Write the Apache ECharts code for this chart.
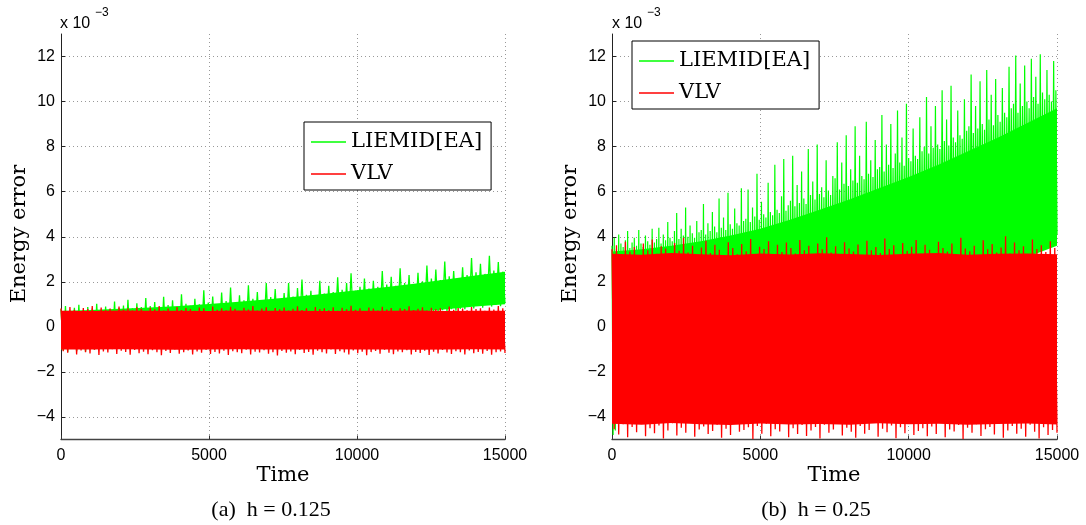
<!DOCTYPE html>
<html>
<head>
<meta charset="utf-8">
<script src="https://cdn.jsdelivr.net/npm/echarts@6/dist/echarts.min.js"></script>
<style>html,body{margin:0;padding:0;background:#fff}#c{width:1086px;height:525px}</style>
</head>
<body>
<div id="c"></div>
<script>
// ---------- data (energy error, units of 1e-3) ----------
const seriesNames = ['LIEMID[EA]', 'VLV'];
const captions = ['(a)  h = 0.125', '(b)  h = 0.25'];
const xTickValues = [0, 5000, 10000, 15000];
const timeMax = 15000;
const yMin = -5, yMax = 13;
const bandTimes = [0,1000,2000,3000,4000,5000,6000,7000,8000,9000,10000,11000,12000,13000,14000,15000];

// (a) h = 0.125 -- VLV
const redA_peaks = [0.82,0.71,0.88,0.76,0.65,0.84,0.79,0.92,0.70,0.86,
0.74,0.81,0.68,0.90,0.77,0.83,0.72,0.87,0.80,0.66,
0.85,0.78,0.93,0.73,0.81,0.69,0.88,0.75,0.84,0.79,
0.71,0.86,0.82,0.67,0.90,0.76,0.83,0.74,0.89,0.80,
0.70,0.85,0.77,0.92,0.72,0.81,0.87,0.68,0.84,0.78,
0.86,0.73,0.80,0.91,0.75,0.83,0.69,0.88,0.79,0.82,
0.74,0.87,0.71,0.85,0.78,0.94,0.76,0.82,0.70,0.86,
0.81,0.73,0.89,0.77,0.84,0.68,0.83,0.79,0.91,0.75,
0.80,0.87,0.72,0.85,0.78,0.82,0.69,0.90,0.76,0.84,
0.81,0.74,0.88,0.79,0.83,0.71,0.86,0.77,0.92,0.82];
const redA_troughs = [-1.08,-1.15,-0.98,-1.22,-1.05,-1.12,-1.18,-1.01,-1.25,-1.09,
-1.14,-0.99,-1.20,-1.06,-1.11,-1.24,-1.03,-1.17,-1.10,-1.21,
-1.04,-1.13,-1.26,-1.07,-1.16,-1.00,-1.19,-1.12,-1.05,-1.23,
-1.09,-1.15,-1.02,-1.20,-1.11,-1.18,-1.06,-1.25,-1.08,-1.13,
-1.17,-1.01,-1.22,-1.10,-1.14,-1.04,-1.19,-1.12,-1.27,-1.07,
-1.15,-1.09,-1.21,-1.03,-1.16,-1.11,-1.24,-1.06,-1.13,-1.18,
-1.00,-1.20,-1.08,-1.14,-1.23,-1.05,-1.17,-1.10,-1.26,-1.12,
-1.07,-1.19,-1.02,-1.15,-1.21,-1.09,-1.13,-1.04,-1.22,-1.11,
-1.16,-1.06,-1.25,-1.10,-1.18,-1.03,-1.14,-1.20,-1.08,-1.12,
-1.23,-1.05,-1.17,-1.11,-1.19,-1.07,-1.24,-1.13,-1.09,-1.16];
const redA_bandTop = [0.72,0.70,0.73,0.71,0.72,0.70,0.73,0.71,0.72,0.70,0.72,0.71,0.73,0.70,0.72,0.71];
const redA_bandBottom = [-1.00,-1.01,-0.99,-1.00,-1.02,-1.00,-0.99,-1.01,-1.00,-0.99,-1.01,-1.00,-1.02,-1.00,-0.99,-1.01];

// (a) h = 0.125 -- LIEMID[EA]
const greenA_peaks = [0.78,0.92,0.70,0.85,0.98,0.74,0.88,0.81,1.02,0.76,
0.90,0.79,1.12,0.84,0.95,1.20,0.82,1.05,0.88,1.28,
0.92,1.10,0.86,1.33,0.97,1.18,0.90,1.45,1.02,0.94,
1.25,1.00,1.62,1.08,1.35,0.98,1.52,1.15,1.75,1.05,
1.40,1.18,1.85,1.25,1.55,1.15,1.95,1.32,1.68,1.22,
1.50,1.95,1.35,1.72,2.10,1.42,1.60,1.38,2.05,1.48,
1.82,1.55,2.20,1.65,1.95,2.38,1.60,1.78,2.15,1.70,
2.05,1.78,2.48,1.88,2.22,1.82,2.60,1.95,2.30,1.85,
2.40,2.02,2.72,2.15,2.55,2.08,2.90,2.25,2.48,2.12,
2.65,2.30,3.05,2.42,2.80,2.35,3.15,2.50,2.88,2.45];
const greenA_troughs = [-1.05,-1.12,-0.98,-1.08,-0.95,-1.10,-0.97,-1.02,-0.90,-1.00,
-0.92,-0.83,-0.95,-0.78,-0.88,-0.72,-0.85,-0.80,-0.70,-0.76,
-0.70,-0.62,-0.74,-0.58,-0.66,-0.55,-0.63,-0.50,-0.60,-0.52,
-0.50,-0.42,-0.55,-0.38,-0.45,-0.33,-0.40,-0.30,-0.37,-0.28,
-0.30,-0.20,-0.28,-0.15,-0.24,-0.12,-0.18,-0.08,-0.14,-0.05,
-0.08,0.02,-0.04,0.06,-0.01,0.10,0.03,0.12,0.05,0.15,
0.12,0.22,0.15,0.26,0.19,0.30,0.24,0.33,0.27,0.36,
0.34,0.42,0.38,0.48,0.40,0.52,0.45,0.55,0.50,0.58,
0.56,0.64,0.60,0.70,0.62,0.74,0.68,0.78,0.72,0.80,
0.78,0.88,0.82,0.94,0.85,1.02,0.90,0.98,0.92,1.05];
const greenA_bandTop = [0.70,0.75,0.80,0.86,0.93,1.02,1.12,1.23,1.35,1.48,1.62,1.77,1.93,2.10,2.28,2.45];
const greenA_bandBottom = [-1.00,-0.86,-0.72,-0.58,-0.44,-0.30,-0.16,-0.02,0.12,0.26,0.40,0.54,0.66,0.78,0.90,1.00];

// (b) h = 0.25 -- VLV
const redB_peaks = [3.45,3.62,3.20,3.78,3.35,3.55,3.05,3.70,3.40,3.88,
3.25,3.58,3.48,3.15,3.72,3.38,3.95,3.30,3.60,3.10,
3.52,3.82,3.28,3.65,3.42,3.00,3.75,3.50,3.22,3.68,
3.36,3.90,3.18,3.56,3.46,3.80,3.08,3.64,3.32,3.74,
3.50,3.26,3.85,3.40,3.60,3.12,3.70,3.44,3.98,3.30,
3.58,3.20,3.76,3.48,3.35,3.66,3.02,3.82,3.40,3.54,
3.28,3.92,3.46,3.62,3.16,3.72,3.38,3.56,3.86,3.24,
3.64,3.42,3.06,3.78,3.50,3.34,3.70,3.22,3.96,3.48,
3.36,3.60,3.14,3.84,3.44,3.68,3.30,3.52,4.02,3.26,
3.74,3.40,3.58,3.18,3.88,3.46,3.62,3.32,3.80,3.50];
const redB_troughs = [-4.55,-4.78,-4.32,-4.90,-4.45,-4.68,-4.20,-4.85,-4.50,-4.72,
-4.38,-4.95,-4.60,-4.28,-4.82,-4.48,-4.70,-4.15,-4.88,-4.56,
-4.42,-4.75,-4.62,-4.35,-4.92,-4.52,-4.80,-4.25,-4.66,-4.58,
-4.46,-4.98,-4.40,-4.74,-4.30,-4.86,-4.54,-4.64,-4.22,-4.90,
-4.50,-4.76,-4.36,-4.84,-4.60,-4.44,-4.96,-4.34,-4.70,-4.56,
-4.26,-4.82,-4.48,-4.66,-4.92,-4.40,-4.74,-4.58,-4.18,-4.88,
-4.52,-4.68,-4.38,-4.94,-4.46,-4.72,-4.30,-4.80,-4.62,-4.50,
-4.86,-4.42,-4.76,-4.24,-4.90,-4.56,-4.64,-4.36,-4.98,-4.48,
-4.70,-4.32,-4.84,-4.54,-4.44,-4.78,-4.28,-4.92,-4.60,-4.40,
-4.74,-4.52,-4.88,-4.34,-4.66,-4.96,-4.46,-4.80,-4.58,-4.70];
const redB_bandTop = [3.25,3.20,3.28,3.22,3.18,3.26,3.21,3.27,3.23,3.19,3.25,3.28,3.20,3.24,3.26,3.22];
const redB_bandBottom = [-4.30,-4.34,-4.27,-4.32,-4.36,-4.29,-4.33,-4.31,-4.35,-4.28,-4.32,-4.30,-4.34,-4.31,-4.29,-4.33];

// (b) h = 0.25 -- LIEMID[EA]  (denser sampling: 200 peaks / 200 troughs)
const greenB_peaks = [3.60,3.95,3.45,4.10,3.70,3.55,3.85,4.25,3.50,3.75,3.95,3.60,4.30,3.70,3.55,4.05,3.80,3.65,4.35,3.75,
3.90,4.40,3.70,4.10,3.85,4.65,3.95,3.80,4.25,5.05,3.90,4.35,4.05,5.30,4.00,4.50,4.15,3.95,4.70,4.20,
4.30,5.45,4.10,4.60,4.25,5.10,4.45,4.20,5.70,4.40,4.85,4.30,5.95,4.55,4.35,5.25,4.60,4.50,6.15,4.70,
4.80,6.10,4.65,5.30,4.90,6.80,4.75,5.55,5.00,4.85,6.40,5.10,4.95,7.20,5.20,5.05,5.80,7.45,5.15,5.40,
5.60,7.60,5.35,6.30,5.50,6.90,5.70,5.45,7.90,5.85,6.45,5.65,8.10,5.90,6.20,5.75,7.40,6.05,5.85,6.70,
6.60,8.20,6.10,7.30,6.35,8.50,6.25,7.00,6.50,8.90,6.40,7.60,6.70,6.55,9.10,6.80,7.40,6.65,8.30,7.00,
7.10,9.40,6.90,8.10,7.20,9.00,7.05,7.70,9.60,7.30,8.40,7.15,9.90,7.50,7.35,8.80,7.60,7.45,9.30,7.80,
8.00,10.20,7.70,8.90,7.95,9.80,8.10,7.90,10.50,8.25,9.20,8.05,10.70,8.40,8.20,9.60,8.50,8.35,10.10,8.70,
8.90,11.20,8.60,9.80,8.80,10.90,9.00,8.75,11.40,9.20,10.30,8.95,11.00,9.40,9.10,10.60,9.50,9.30,11.55,9.70,
9.90,12.05,9.50,10.80,9.80,11.60,10.00,9.70,11.90,10.20,11.10,9.90,12.10,10.40,10.10,11.40,10.30,10.00,11.80,10.50];
const greenB_troughs = [-4.80,-4.60,-4.25,-4.10,-4.20,-4.05,-4.15,-4.00,-4.10,-3.95,-4.05,-3.90,-4.00,-3.85,-3.95,-3.80,-3.90,-3.75,-3.85,-3.70,
-4.10,-3.85,-4.20,-3.75,-3.95,-3.65,-4.05,-3.80,-3.60,-3.90,-3.70,-3.50,-3.85,-3.55,-3.75,-3.45,-3.65,-3.40,-3.60,-3.35,
-3.50,-3.20,-3.60,-3.10,-3.35,-3.00,-3.25,-3.05,-3.40,-2.90,-3.15,-2.85,-3.00,-2.75,-2.95,-2.65,-2.85,-2.60,-2.75,-2.50,
-2.65,-2.40,-2.55,-2.30,-2.45,-2.15,-2.35,-2.05,-2.20,-1.95,-2.10,-1.85,-1.95,-1.70,-1.85,-1.60,-1.70,-1.45,-1.60,-1.35,
-1.45,-1.20,-1.35,-1.05,-1.20,-0.95,-1.05,-0.80,-0.95,-0.65,-0.80,-0.55,-0.65,-0.40,-0.50,-0.30,-0.40,-0.15,-0.25,-0.05,
-0.20,0.05,-0.05,0.20,0.10,0.30,0.15,0.40,0.25,0.50,0.35,0.60,0.45,0.70,0.55,0.80,0.65,0.90,0.75,1.00,
0.85,1.10,0.95,1.20,1.05,1.30,1.15,1.40,1.25,1.50,1.35,1.60,1.45,1.70,1.55,1.80,1.65,1.90,1.75,2.00,
1.85,2.10,1.95,2.20,2.05,2.30,2.15,2.40,2.25,2.50,2.35,2.60,2.45,2.70,2.55,2.80,2.65,2.90,2.75,3.00,
2.85,3.10,2.95,3.20,3.05,3.30,3.10,3.40,3.20,3.45,3.25,3.55,3.35,3.60,3.40,3.70,3.45,3.75,3.55,3.80,
3.60,3.90,3.65,3.95,3.70,4.00,3.75,4.05,3.80,3.60,4.10,3.85,3.70,4.05,3.90,3.75,4.15,3.95,3.80,4.10];
const greenB_bandTop = [3.35,3.45,3.60,3.80,4.05,4.35,4.75,5.20,5.65,6.15,6.65,7.20,7.80,8.40,9.05,9.70];
const greenB_bandBottom = [-4.20,-3.90,-3.50,-3.10,-2.60,-2.10,-1.50,-0.90,-0.30,0.30,0.90,1.45,2.00,2.60,3.10,3.60];

// ---------- build ----------
const GREEN = '#00ff00', RED = '#ff0000';
function zig(peaks, troughs) {
  const n = peaks.length, step = timeMax / (2 * n - 1), out = [];
  for (let i = 0; i < n; i++) {
    out.push([2 * i * step, peaks[i]]);
    out.push([(2 * i + 1) * step, troughs[i]]);
  }
  return out;
}

// dense part of each signal: a filled band between its lower and upper bounds
function bandSeries(g, lo, hi, color, z) {
  return { type: 'custom', xAxisIndex: g, yAxisIndex: g, silent: true, clip: true, z: z,
    data: bandTimes.map((t, i) => [t, lo[i], hi[i]]),
    encode: { x: 0, y: [1, 2] },
    renderItem: function (params, api) {
      if (params.dataIndex !== 0) return null;
      const pts = [];
      for (let i = 0; i < bandTimes.length; i++) pts.push(api.coord([bandTimes[i], hi[i]]));
      for (let i = bandTimes.length - 1; i >= 0; i--) pts.push(api.coord([bandTimes[i], lo[i]]));
      return { type: 'polygon', shape: { points: pts }, style: { fill: color } };
    } };
}
function zigSeries(g, name, peaks, troughs, color, z, w) {
  return { name: name, type: 'line', xAxisIndex: g, yAxisIndex: g, data: zig(peaks, troughs), z: z,
    symbol: 'none', showSymbol: false,
    lineStyle: { color: color, width: w }, itemStyle: { color: color } };
}

const grids = [
  { left: 61, top: 34, width: 444, height: 405.5 },
  { left: 612, top: 34, width: 445, height: 405.5 }
];
const axisFont = '"Liberation Sans", Arial, sans-serif';
const serifCM = '"DejaVu Serif", serif';

function xAx(g) {
  return { type: 'value', gridIndex: g, min: xTickValues[0], max: xTickValues[xTickValues.length - 1],
    interval: xTickValues[1] - xTickValues[0],
    axisLine: { show: true, onZero: false, lineStyle: { color: '#444', width: 1.3 } },
    axisTick: { show: true, inside: true, length: 4, lineStyle: { color: '#333' } },
    axisLabel: { margin: 8, fontSize: 16, fontFamily: axisFont, color: '#000', formatter: v => String(v) },
    splitLine: { show: true, showMinLine: false, lineStyle: { type: [1, 3], color: '#999', width: 1 } } };
}
function yAx(g) {
  return { type: 'value', gridIndex: g, min: yMin, max: yMax, splitNumber: 9,
    axisLine: { show: true, onZero: false, lineStyle: { color: '#222', width: 1 } },
    axisTick: { show: true, inside: true, length: 4, lineStyle: { color: '#222' } },
    axisLabel: { margin: 6, fontSize: 16, fontFamily: axisFont, color: '#000',
      showMinLabel: false, showMaxLabel: false,
      formatter: v => String(v).replace('-', '\u2212') },
    splitLine: { show: true, showMinLine: false, showMaxLine: false, lineStyle: { type: [1, 3], color: '#999', width: 1 } } };
}
function legendAt(left, top) {
  return { left: left, top: top, orient: 'vertical', z: 10,
    data: [{ name: seriesNames[0], icon: 'rect' }, { name: seriesNames[1], icon: 'rect' }],
    backgroundColor: '#fff', borderColor: '#000', borderWidth: 1, padding: [7, 9, 3, 7],
    itemWidth: 35, itemHeight: 1.5, itemGap: 6, selectedMode: false,
    textStyle: { fontFamily: serifCM, fontSize: 21, color: '#000', lineHeight: 26 } };
}
function txt(x, y, text, font, align, vAlign, rot) {
  return { type: 'text', x: x, y: y, rotation: rot || 0, silent: true,
    style: { text: text, font: font, fill: '#000', align: align, verticalAlign: vAlign } };
}

const option = {
  animation: false,
  grid: grids,
  xAxis: [xAx(0), xAx(1)],
  yAxis: [yAx(0), yAx(1)],
  legend: [legendAt(304, 122), legendAt(632, 41)],
  series: [
    bandSeries(0, greenA_bandBottom, greenA_bandTop, GREEN, 2),
    zigSeries(0, seriesNames[0], greenA_peaks, greenA_troughs, GREEN, 3, 1.3),
    bandSeries(0, redA_bandBottom, redA_bandTop, RED, 4),
    zigSeries(0, seriesNames[1], redA_peaks, redA_troughs, RED, 5, 1.3),
    bandSeries(1, greenB_bandBottom, greenB_bandTop, GREEN, 2),
    zigSeries(1, seriesNames[0], greenB_peaks, greenB_troughs, GREEN, 3, 1.2),
    bandSeries(1, redB_bandBottom, redB_bandTop, RED, 4),
    zigSeries(1, seriesNames[1], redB_peaks, redB_troughs, RED, 5, 1.3)
  ],
  graphic: [
    txt(60, 16, 'x 10', '16px ' + axisFont, 'left', 'top'),
    txt(95, 7, '\u22123', '12px ' + axisFont, 'left', 'top'),
    txt(612, 16, 'x 10', '16px ' + axisFont, 'left', 'top'),
    txt(647, 7, '\u22123', '12px ' + axisFont, 'left', 'top'),
    txt(20, 234, 'Energy error', '21px ' + serifCM, 'center', 'middle', Math.PI / 2),
    txt(571, 234, 'Energy error', '21px ' + serifCM, 'center', 'middle', Math.PI / 2),
    txt(283, 476, 'Time', '21px ' + serifCM, 'center', 'middle'),
    txt(834, 476, 'Time', '21px ' + serifCM, 'center', 'middle'),
    txt(271, 510, captions[0], '22px "Liberation Serif", serif', 'center', 'middle'),
    txt(816, 510, captions[1], '22px "Liberation Serif", serif', 'center', 'middle')
  ]
};
const chart = echarts.init(document.getElementById('c'), null, { renderer: 'canvas' });
chart.setOption(option);
</script>
</body>
</html>
